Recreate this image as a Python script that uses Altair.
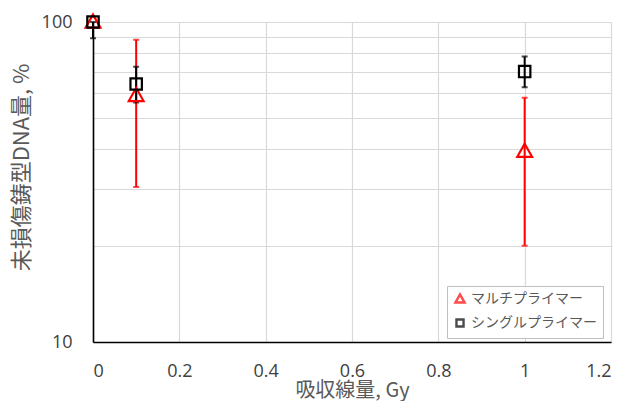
import altair as alt
import pandas as pd

series = ["マルチプライマー", "シングルプライマー"]
dose_multi = [0, 0.1, 1]
val_multi = [100, 59, 39.5]
lo_multi = [100, 30.5, 20]
hi_multi = [100, 88, 58]
dose_single = [0, 0.1, 1]
val_single = [100, 64, 70]
lo_single = [89, 56, 62.5]
hi_single = [100, 72.5, 78]

x_ticks = [0, 0.2, 0.4, 0.6, 0.8, 1.0, 1.2]
y_grid = [10, 20, 30, 40, 50, 60, 70, 80, 90, 100]

rows = []
for d, v, lo, hi in zip(dose_multi, val_multi, lo_multi, hi_multi):
    rows.append({"dose": d, "val": v, "lo": lo, "hi": hi, "series": series[0]})
for d, v, lo, hi in zip(dose_single, val_single, lo_single, hi_single):
    rows.append({"dose": d, "val": v, "lo": lo, "hi": hi, "series": series[1]})
df = pd.DataFrame(rows)
eb = df[df["lo"] != df["hi"]]

FONT_NUM = "Open Sans"
FONT_JP = "Noto Sans CJK JP"

TRI = "M0,-1.3L1.3,1L-1.3,1Z"
SQ = "M-1,-1L1,-1L1,1L-1,1Z"

xscale = alt.Scale(domain=[0, 1.2], nice=False, zero=False)
yscale = alt.Scale(type="log", domain=[10, 100], nice=False)
cscale = alt.Scale(domain=series, range=["#ff0000", "#000000"])
sscale = alt.Scale(domain=series, range=[TRI, SQ])

legend = alt.Legend(
    title=None, orient="none", legendX=354, legendY=264,
    fillColor="white", strokeColor="#bfbfbf", padding=6,
    labelFont=FONT_JP, labelFontSize=14, labelColor="#595959",
    symbolSize=50, symbolStrokeWidth=2.4,
    rowPadding=6, offset=0, labelLimit=300,
)

xaxis = alt.Axis(
    title="吸収線量, Gy", values=x_ticks, format="~g", ticks=False,
    labelFont=FONT_NUM, labelFontSize=18, labelColor="#404040", labelPadding=20,
    titleFont=FONT_JP, titleFontSize=20, titleFontWeight="normal", titleColor="#595959",
    titlePadding=0,
    gridColor="#d9d9d9", gridWidth=1.2, domainColor="#000000", domainWidth=1.6,
)
yaxis = alt.Axis(
    title="未損傷鋳型DNA量, %", values=y_grid, ticks=False,
    labelExpr="datum.value == 10 || datum.value == 100 ? datum.label : ''",
    labelFont=FONT_NUM, labelFontSize=18, labelColor="#404040", labelPadding=21,
    titleFont=FONT_JP, titleFontSize=22, titleFontWeight="normal", titleColor="#595959",
    titleX=-72, titleY=145, titleAlign="center", titleBaseline="middle", titleAngle=270,
    gridColor="#d9d9d9", gridWidth=1.2, domainColor="#000000", domainWidth=1.6,
)

base = alt.Chart(eb)
bars = base.mark_rule(strokeWidth=2).encode(
    x=alt.X("dose:Q", scale=xscale, axis=xaxis),
    y=alt.Y("lo:Q", scale=yscale, axis=yaxis),
    y2="hi:Q",
    color=alt.Color("series:N", scale=cscale, legend=legend),
)
caps_lo = base.mark_tick(orient="horizontal", size=6, thickness=0, filled=False, strokeWidth=2).encode(
    x="dose:Q", y=alt.Y("lo:Q", scale=yscale),
    color=alt.Color("series:N", scale=cscale, legend=legend),
)
caps_hi = base.mark_tick(orient="horizontal", size=6, thickness=0, filled=False, strokeWidth=2).encode(
    x="dose:Q", y=alt.Y("hi:Q", scale=yscale),
    color=alt.Color("series:N", scale=cscale, legend=legend),
)
points = alt.Chart(df).mark_point(filled=False, strokeWidth=2.2, size=130, opacity=1).encode(
    x="dose:Q", y=alt.Y("val:Q", scale=yscale),
    color=alt.Color("series:N", scale=cscale, legend=legend),
    shape=alt.Shape("series:N", scale=sscale, legend=legend),
)

chart = alt.layer(bars, caps_lo, caps_hi, points).properties(
    width=518, height=320,
    autosize=alt.AutoSizeParams(type="none"),
    padding={"left": 85, "top": 14, "right": 7, "bottom": 59},
).configure_view(stroke=None).configure(background="white")

chart.save("out.html", embed_options={"renderer": "svg", "actions": False})
